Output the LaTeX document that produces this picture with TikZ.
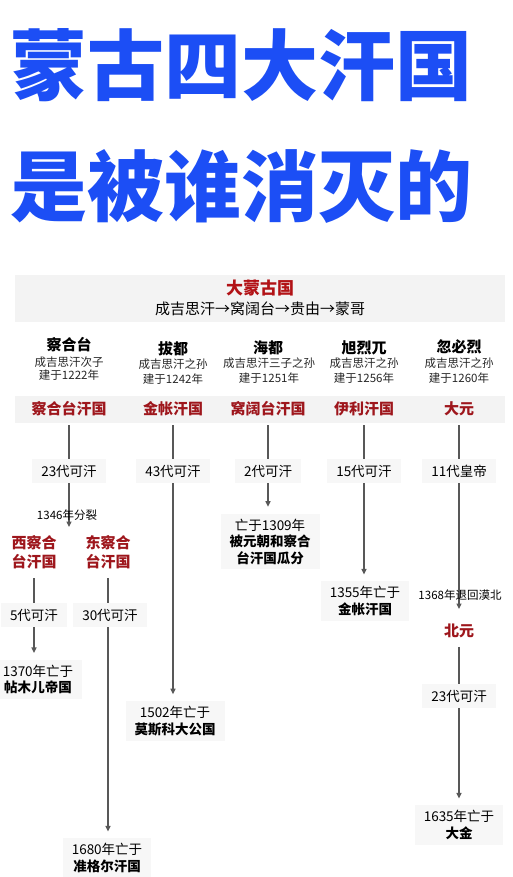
\documentclass[tikz,border=0pt]{standalone}
\usepackage{fontspec}
\setmainfont{Noto Sans CJK SC}
\usetikzlibrary{arrows.meta}
\definecolor{titleblue}{RGB}{28,78,245}
\definecolor{kred}{RGB}{158,22,28}
\definecolor{hred}{RGB}{178,18,22}
\definecolor{lineg}{RGB}{88,88,88}
\definecolor{bgg}{RGB}{247,247,247}
\definecolor{bandg}{RGB}{243,243,243}
\newcommand{\fsz}[2]{\fontsize{#1}{#2}\selectfont}
\begin{document}
\begin{tikzpicture}[x=1pt,y=-1pt,
  every node/.style={inner sep=0pt, outer sep=0pt},
  ttl/.style={font=\fsz{77}{80}\bfseries, text=titleblue},
  namen/.style={font=\fsz{15}{18}\bfseries},
  subn/.style={text=black!85, align=center},
  king/.style={font=\fsz{15}{19}\bfseries, text=kred, align=center, inner ysep=9pt},
  gen/.style={font=\fsz{13.5}{16}, fill=bgg, inner xsep=9pt, inner ysep=6pt},
  endn/.style={font=\fsz{13.5}{16.5}, fill=bgg, align=center, inner xsep=9pt, inner ysep=5pt},
  lbl/.style={font=\fsz{11.5}{13}},
  conn/.style={draw=lineg, line width=1.2pt},
  arr/.style={conn, -{Triangle[length=5.5pt,width=5pt]}, shorten >=7pt},
  arrc/.style={conn, -{Triangle[length=5.5pt,width=5pt]}},
]
\useasboundingbox (0,0) rectangle (513,877);
\fill[white] (0,0) rectangle (513,877);

% title
\node[ttl] (t1) at (241,65) {蒙古四大汗国};
\node[ttl] (t2) at (241,186) {是被谁消灭的};

% header band
\fill[bandg] (15,275) rectangle (505,322);
\node[font=\fsz{17}{20}\bfseries, text=hred] (mg) at (260,288) {大蒙古国};
\node[font=\fsz{15}{18}] (chain) at (260,309) {成吉思汗→窝阔台→贵由→蒙哥};

% founders
\node[namen] (n1) at (69,345) {察合台};
\node[subn, font=\fsz{11.5}{12.5}] (s1) at (69,368.5) {成吉思汗次子\\建于1222年};
\node[namen] (n2) at (173,349) {拔都};
\node[subn, font=\fsz{11.5}{15}] (s2) at (173,371.5) {成吉思汗之孙\\建于1242年};
\node[namen] (n3) at (268,348) {海都};
\node[subn, font=\fsz{11.5}{15}] (s3) at (269,370.5) {成吉思汗三子之孙\\建于1251年};
\node[namen] (n4) at (364,348) {旭烈兀};
\node[subn, font=\fsz{11.5}{15}] (s4) at (364,370.5) {成吉思汗之孙\\建于1256年};
\node[namen] (n5) at (459,347) {忽必烈};
\node[subn, font=\fsz{11.5}{15}] (s5) at (459,370.5) {成吉思汗之孙\\建于1260年};

% khanates band
\fill[bandg] (15,396) rectangle (505,423);
\node[king] (k1) at (69,409) {察合台汗国};
\node[king] (k2) at (173,409) {金帐汗国};
\node[king] (k3) at (268,409) {窝阔台汗国};
\node[king] (k4) at (364,409) {伊利汗国};
\node[king] (k5) at (459,409) {大元};

% generations
\node[gen] (g1) at (69,471) {23代可汗};
\node[gen] (g2) at (173,471) {43代可汗};
\node[gen] (g3) at (268,471) {2代可汗};
\node[gen] (g4) at (364,471) {15代可汗};
\node[gen] (g5) at (459,471) {11代皇帝};

\draw[conn] (k1) -- (g1);
\draw[conn] (k2) -- (g2);
\draw[conn] (k3) -- (g3);
\draw[conn] (k4) -- (g4);
\draw[conn] (k5) -- (g5);

% Chagatai split
\coordinate (sp) at (69,527);
\draw[arrc] (g1) -- (sp);
\node[lbl] (l1) at (67,515) {1346年分裂};
\node[king] (w) at (34,552.5) {西察合\\台汗国};
\node[king] (e) at (108,552.5) {东察合\\台汗国};
\node[gen] (w5) at (34,615) {5代可汗};
\node[gen] (e30) at (110,615) {30代可汗};
\draw[conn] (w) -- (w5);
\draw[conn] (e.south) -- (e |- e30.north);
\node[endn] (d1) at (38,679.5) {1370年亡于\\\textbf{帖木儿帝国}};
\draw[arr] (w5) -- (w5 |- d1.north);
\node[endn] (d3) at (107,858) {1680年亡于\\\textbf{准格尔汗国}};
\draw[arr] (e |- e30.south) -- (e |- d3.north);

% Golden Horde
\node[endn] (d2) at (175,721) {1502年亡于\\\textbf{莫斯科大公国}};
\draw[arr] (g2) -- (g2 |- d2.north);

% Ogedei
\node[endn] (d4) at (270,541.5) {亡于1309年\\\textbf{被元朝和察合}\\\textbf{台汗国瓜分}};
\draw[arr] (g3) -- (g3 |- d4.north);

% Ilkhanate
\node[endn] (d5) at (365,601) {1355年亡于\\\textbf{金帐汗国}};
\draw[arr] (g4) -- (g4 |- d5.north);

% Yuan
\coordinate (c5) at (459,609);
\draw[arrc] (g5) -- (c5);
\node[lbl] (l2) at (460,595) {1368年退回漠北};
\node[king] (by) at (459,631) {北元};
\node[gen] (g6) at (459,696) {23代可汗};
\draw[conn] (by) -- (g6);
\node[endn] (d6) at (459,825) {1635年亡于\\\textbf{大金}};
\draw[arr] (g6) -- (d6);
\end{tikzpicture}
\end{document}
